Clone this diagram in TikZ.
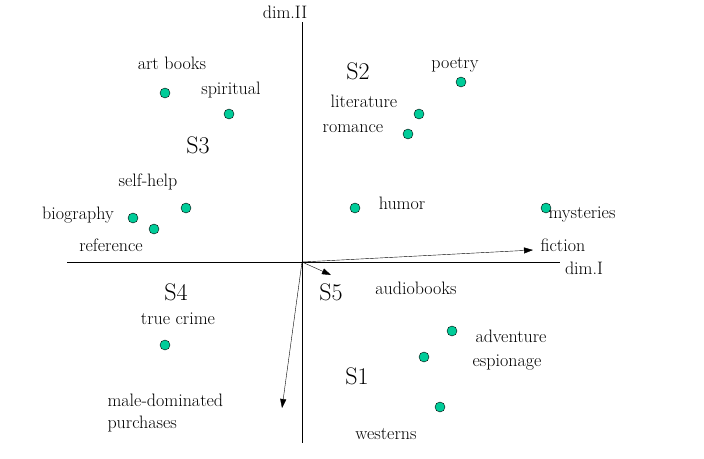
\documentclass[tikz,border=0pt]{standalone}
\usetikzlibrary{arrows.meta}
\definecolor{dotgreen}{RGB}{0,204,153}
\begin{document}
\begin{tikzpicture}[x=1pt,y=-1pt, every node/.style={font=\fontsize{18}{22}\selectfont}]
\useasboundingbox (0,0) rectangle (704,458);

\tikzset{dot/.style={circle, draw, fill=dotgreen, inner sep=0pt, minimum size=10pt}}
\tikzset{seg/.style={font=\fontsize{24}{26}\selectfont}}
\tikzset{axis/.style={thin}}
\tikzset{vec/.style={-{Triangle[length=9pt,width=6pt]},thin}}

% axes
\coordinate (o) at (302,262);
\coordinate (top) at (302,22);
\coordinate (bot) at (302,443);
\coordinate (left) at (67,262);
\coordinate (right) at (560,262);
\draw[axis] (top) -- (bot);
\draw[axis] (left) -- (right);
\node (d2) at (285,12) {dim.II};
\node (d1) at (584,268) {dim.I};

% segments
\node[seg] (s1) at (357,376) {S1};
\node[seg] (s2) at (358,71) {S2};
\node[seg] (s3) at (198,145) {S3};
\node[seg] (s4) at (176,292) {S4};
\node[seg] (s5) at (331,292) {S5};

% items
\node[dot] (artbooks) at (165,93) {};
\node[dot] (spiritual) at (229,114) {};
\node[dot] (selfhelp) at (186,208) {};
\node[dot] (biography) at (133,218) {};
\node[dot] (reference) at (154,229) {};
\node[dot] (poetry) at (461,82) {};
\node[dot] (literature) at (419,114) {};
\node[dot] (romance) at (408,134) {};
\node[dot] (humor) at (355,208) {};
\node[dot] (mysteries) at (546,208) {};
\node[dot] (truecrime) at (165,345) {};
\node[dot] (adventure) at (452,331) {};
\node[dot] (espionage) at (424,357) {};
\node[dot] (westerns) at (440,407) {};

\node at (172,63) {art books};
\node at (231,90) {spiritual};
\node at (148,182) {self-help};
\node at (78,215) {biography};
\node at (111,245) {reference};
\node at (455,65) {poetry};
\node at (364,101) {literature};
\node at (353,129) {romance};
\node at (402,203) {humor};
\node at (582,215) {mysteries};
\node at (178,319) {true crime};
\node at (416,288) {audiobooks};
\node at (511,336) {adventure};
\node at (507,363) {espionage};
\node at (386,434) {westerns};
\node (fictionlbl) at (563,245) {fiction};
\node[align=left, anchor=west] (malelbl) at (104,413) {male-dominated\\purchases};

% vectors
\coordinate (fiction) at (533,250);
\coordinate (male) at (282,408);
\coordinate (audio) at (331,275);
\draw[vec] (o) -- (fiction);
\draw[vec] (o) -- (male);
\draw[vec] (o) -- (audio);
\end{tikzpicture}
\end{document}
